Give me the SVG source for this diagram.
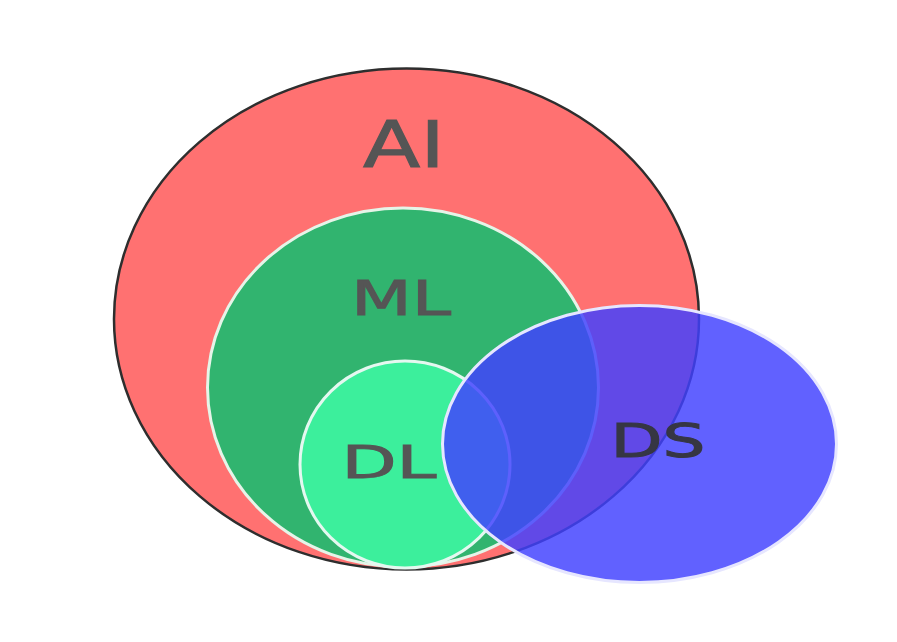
<svg xmlns="http://www.w3.org/2000/svg" width="897" height="642" viewBox="0 0 897 642">
<style>
.lbl{font-family:"DejaVu Sans","Liberation Sans",sans-serif;fill:#555555;stroke:#555555;stroke-width:1;text-anchor:middle}
</style>
<rect width="897" height="642" fill="#ffffff"/>
<g id="AI">
<ellipse cx="406.5" cy="319" rx="292.5" ry="250.5" fill="#FF7171" stroke="#2e2e2e" stroke-width="2.5"/>
<text class="lbl" x="404" y="167" font-size="64" textLength="82" lengthAdjust="spacingAndGlyphs">AI</text>
</g>
<g id="ML">
<ellipse cx="403" cy="387.5" rx="195.5" ry="179.5" fill="#31B46F" stroke="#E6F4E8" stroke-width="3"/>
<text class="lbl" x="401" y="315" font-size="48" textLength="100" lengthAdjust="spacingAndGlyphs">ML</text>
</g>
<g id="DL">
<ellipse cx="405" cy="464.5" rx="105" ry="103.5" fill="#3CEF9C" stroke="#E4F8F0" stroke-width="3"/>
<text class="lbl" x="389" y="478" font-size="45" textLength="95" lengthAdjust="spacingAndGlyphs">DL</text>
</g>
<g id="DS">
<ellipse cx="639.5" cy="444" rx="197" ry="138.5" fill="#4141FF" fill-opacity="0.83" stroke="#E6E6FF" stroke-width="3"/>
<text class="lbl" x="658" y="457" font-size="46" textLength="95" lengthAdjust="spacingAndGlyphs" style="fill:#363644;stroke:#363644">DS</text>
</g>
<g id="connectors"></g>
</svg>
